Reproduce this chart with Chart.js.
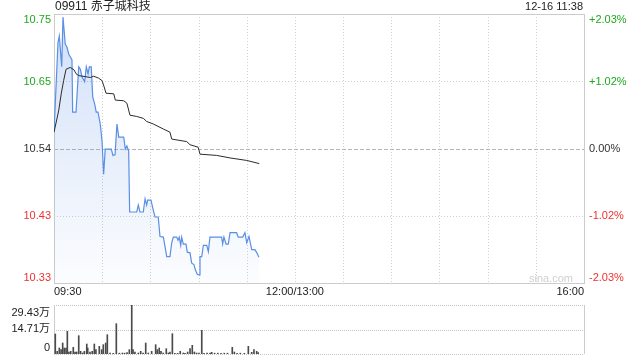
<!DOCTYPE html>
<html>
<head>
<meta charset="utf-8">
<script src="https://cdn.jsdelivr.net/npm/chart.js@4"></script>
<style>
  html, body { margin: 0; padding: 0; background: #fff; }
  #wrap { position: relative; width: 640px; height: 360px; }
  canvas { position: absolute; left: 0; }
</style>
</head>
<body>
<div id="wrap">
  <canvas id="price" width="640" height="300" style="top:0"></canvas>
  <canvas id="vol" width="640" height="62" style="top:298px"></canvas>
</div>
<script>
// minutes since 09:30 (lunch break removed), 330 = 16:00
const xTicks = [0, 30, 60, 90, 120, 150, 180, 210, 240, 270, 300, 330];
const xLabels = { 0: '09:30', 150: '12:00/13:00', 330: '16:00' };

const priceTicks = [10.326, 10.433, 10.54, 10.647, 10.754];
const priceLabels = ['10.33', '10.43', '10.54', '10.65', '10.75'];
const pctLabels = ['-2.03%', '-1.02%', '0.00%', '+1.02%', '+2.03%'];

const priceMin = [0, 2.5, 3.3, 4.8, 5.6, 7, 8.1, 9.2, 10.1, 11.2, 11.6, 13.7, 15.4, 16.4, 17.4, 19.1, 20.1, 21.2, 22, 23.2,
  24.1, 25.3, 26.3, 27.4, 28.8, 29.9, 30.9, 31.9, 35.7, 36.7, 38, 39.2, 40.3, 43.4, 44.4, 45.4, 46.5, 47.1, 51.5, 52.5,
  53.5, 55.6, 56.7, 57.7, 58.3, 60.4, 61.8, 62.9, 64.9, 66, 68.1, 70.2, 72.2, 73.3, 74.3, 76.4, 77.2, 78, 78.9, 79.5,
  80.5, 82.2, 83, 84.7, 85.7, 87.2, 88, 89.2, 90.3, 90.9, 92, 93, 95.1, 96.1, 97.1, 104.4, 105, 105.8, 107.1, 108.5,
  109.6, 113.7, 114.7, 117.5, 118.9, 120, 121.4, 123.1, 125.1, 126.3, 127.6];
const priceVal = [10.566, 10.709, 10.719, 10.670, 10.749, 10.706, 10.701, 10.690, 10.686, 10.681, 10.598, 10.598, 10.670, 10.666, 10.654, 10.646, 10.670, 10.659, 10.670, 10.670,
  10.622, 10.611, 10.598, 10.598, 10.579, 10.552, 10.499, 10.539, 10.539, 10.529, 10.530, 10.579, 10.558, 10.558, 10.539, 10.544, 10.536, 10.439, 10.439, 10.450,
  10.439, 10.439, 10.460, 10.450, 10.458, 10.458, 10.442, 10.431, 10.431, 10.400, 10.399, 10.368, 10.368, 10.390, 10.399, 10.399, 10.394, 10.399, 10.386, 10.399,
  10.388, 10.388, 10.375, 10.374, 10.358, 10.355, 10.347, 10.340, 10.339, 10.368, 10.368, 10.386, 10.386, 10.376, 10.399, 10.399, 10.388, 10.399, 10.388, 10.388,
  10.406, 10.406, 10.399, 10.399, 10.406, 10.390, 10.400, 10.379, 10.379, 10.374, 10.367];

const avgMin = [0, 2.9, 4.5, 6, 7.5, 10.1, 12.5, 13.7, 15.4, 22.6, 24.7, 27.8, 29.9, 31.1, 32.4, 37.2, 38.2, 43.4, 45.4, 47.3,
  51.5, 55.6, 57.7, 61.8, 68.1, 72.2, 73.3, 82.6, 84.7, 89.8, 90.9, 101.3, 109.6, 120, 127.8];
const avgVal = [10.566, 10.600, 10.627, 10.648, 10.666, 10.669, 10.665, 10.659, 10.656, 10.653, 10.655, 10.652, 10.648, 10.639, 10.628, 10.627, 10.617, 10.616, 10.612, 10.593,
  10.591, 10.588, 10.583, 10.579, 10.571, 10.566, 10.555, 10.551, 10.546, 10.542, 10.531, 10.529, 10.525, 10.521, 10.516];

// volume in 万
const volTicks = [0, 14.715, 29.43];
const volLabels = ['0', '14.71万', '29.43万'];
const volMin = [0.8, 2, 3.3, 4.4, 5.4, 6.4, 7.5, 8.3, 9.3, 10.4, 12, 13.1, 14.1, 15.4, 16.6, 17.9, 18.9, 20.4, 21, 22.4,
  23.8, 25.1, 26.1, 28.2, 29.7, 30.7, 32.2, 33.2, 34.9, 36.9, 38.8, 40.7, 42.6, 44, 45.5, 46.9, 48.4, 49.2, 50.4, 52.5,
  54, 55.5, 57.1, 58.7, 60.8, 63.3, 64.3, 65.5, 66.6, 68, 69.9, 71.2, 72.2, 73.7, 75.3, 77, 78.6, 80.5, 81.6, 83.2,
  84.7, 86.1, 87.4, 88.8, 90.3, 92, 93.4, 95.3, 97.2, 98.2, 100, 102, 104, 106, 108, 111, 112.3, 114, 116, 118.5,
  121, 123.1, 124.5, 126.2, 127.1];
const volVal = [12.0, 1.6, 3.6, 2.6, 6.6, 3.6, 3.6, 13.6, 1.2, 1.6, 4.0, 1.2, 1.2, 11.0, 1.6, 0.6, 1.6, 6.0, 3.6, 1.2,
  1.6, 6.0, 2.6, 4.6, 2.6, 5.6, 6.6, 11.6, 0.6, 0.4, 18.2, 0.5, 0.6, 0.5, 0.8, 2.6, 29.43, 2.6, 1.2, 0.6,
  1.6, 0.6, 6.6, 0.6, 1.6, 5.6, 2.6, 3.6, 1.6, 0.6, 3.2, 0.6, 1.2, 12.2, 0.4, 0.4, 1.6, 0.6, 0.4, 1.2,
  3.2, 5.2, 1.2, 0.6, 0.6, 14.2, 0.4, 0.5, 0.5, 1.0, 0.5, 0.5, 0.4, 0.5, 0.5, 4.0, 1.2, 0.4, 0.5, 0.4,
  4.6, 1.0, 2.6, 1.6, 0.8];

const title = '09911 赤子城科技';
const stamp = '12-16 11:38';

const FONT = "'Liberation Sans', Arial, 'Noto Sans CJK SC', sans-serif";
const GREEN = '#1fa81f', RED = '#f03030', DARK = '#333';
const labelColor = i => (i > 2 ? GREEN : i < 2 ? RED : DARK);

function hline(ctx, x0, x1, y) {
  const py = Math.round(y) + 0.5;
  ctx.beginPath(); ctx.moveTo(x0, py); ctx.lineTo(x1, py); ctx.stroke();
}
function vline(ctx, x, y0, y1) {
  const px = Math.round(x) + 0.5;
  ctx.beginPath(); ctx.moveTo(px, y0); ctx.lineTo(px, y1); ctx.stroke();
}

const priceDecor = {
  id: 'priceDecor',
  beforeDatasetsDraw(chart) {
    const { ctx, chartArea: a, scales: { x, y } } = chart;
    ctx.save();
    ctx.lineWidth = 1;
    ctx.strokeStyle = '#cfcfcf';
    ctx.setLineDash([1, 2]);
    xTicks.slice(1, -1).forEach(m => vline(ctx, x.getPixelForValue(m), a.top, a.bottom));
    priceTicks.slice(1, -1).forEach((v, i) => {
      if (i === 1) return;
      hline(ctx, a.left, a.right, y.getPixelForValue(v));
    });
    // previous close line
    ctx.strokeStyle = '#b5b5b5';
    ctx.setLineDash([4, 2]);
    hline(ctx, a.left, a.right, y.getPixelForValue(priceTicks[2]));
    ctx.setLineDash([]);
    ctx.strokeStyle = '#cccccc';
    ctx.strokeRect(Math.round(a.left) + 0.5, Math.round(a.top) + 0.5, Math.round(a.right - a.left), Math.round(a.bottom - a.top));
    ctx.restore();
  },
  afterDraw(chart) {
    const { ctx, chartArea: a, scales: { x, y } } = chart;
    ctx.save();
    ctx.font = '12px ' + FONT;
    ctx.fillStyle = '#222';
    ctx.textBaseline = 'middle';
    ctx.textAlign = 'left';
    ctx.fillText(title, a.left + 1, 7);
    ctx.font = '11px ' + FONT;
    ctx.textAlign = 'right';
    ctx.fillText(stamp, a.right - 1, 7);

    priceTicks.forEach((v, i) => {
      let py = y.getPixelForValue(v);
      if (i === 0) py -= 5;
      else if (i === priceTicks.length - 1) py += 6;
      else py += 0.5;
      ctx.fillStyle = labelColor(i);
      ctx.textAlign = 'right';
      ctx.fillText(priceLabels[i], a.left - 3, py);
      ctx.textAlign = 'left';
      ctx.fillText(pctLabels[i], a.right + 5, py);
    });

    ctx.fillStyle = '#222';
    xTicks.forEach(m => {
      const lab = xLabels[m];
      if (!lab) return;
      ctx.textAlign = m === 0 ? 'left' : (m === 330 ? 'right' : 'center');
      ctx.fillText(lab, x.getPixelForValue(m), a.bottom + 9);
    });

    ctx.fillStyle = '#d0d0d0';
    ctx.textAlign = 'right';
    ctx.fillText('sina.com', a.right - 11, a.bottom - 4);
    ctx.restore();
  }
};

const volDecor = {
  id: 'volDecor',
  beforeDatasetsDraw(chart) {
    const { ctx, chartArea: a, scales: { y } } = chart;
    ctx.save();
    ctx.lineWidth = 1;
    ctx.strokeStyle = '#c4c4c4';
    ctx.setLineDash([1, 1]);
    volTicks.forEach(v => hline(ctx, a.left, a.right, y.getPixelForValue(v)));
    ctx.setLineDash([]);
    ctx.strokeStyle = '#cccccc';
    vline(ctx, a.left, a.top, a.bottom);
    vline(ctx, a.right, a.top, a.bottom);
    ctx.restore();
  },
  afterDraw(chart) {
    const { ctx, chartArea: a, scales: { y } } = chart;
    ctx.save();
    ctx.font = '11px ' + FONT;
    ctx.fillStyle = '#222';
    ctx.textBaseline = 'middle';
    ctx.textAlign = 'right';
    volTicks.forEach((v, i) => {
      let py = y.getPixelForValue(v);
      if (i === 0) py -= 6;
      else if (i === volTicks.length - 1) py += 8;
      else py -= 1;
      ctx.fillText(volLabels[i], a.left - 4, py);
    });
    ctx.restore();
  }
};

const hiddenX = { type: 'linear', min: 0, max: 330, offset: false, display: false };

new Chart(document.getElementById('price'), {
  type: 'line',
  data: {
    datasets: [
      {
        label: 'avg',
        data: avgMin.map((m, i) => ({ x: m, y: avgVal[i] })),
        borderColor: '#2b2b2b',
        borderWidth: 1,
        pointRadius: 0,
        fill: false,
        tension: 0
      },
      {
        label: 'price',
        data: priceMin.map((m, i) => ({ x: m, y: priceVal[i] })),
        borderColor: '#5a8fe6',
        borderWidth: 1.2,
        pointRadius: 0,
        tension: 0,
        fill: 'start',
        backgroundColor: (c) => {
          const { ctx, chartArea } = c.chart;
          if (!chartArea) return 'rgba(90,143,230,0.15)';
          const g = ctx.createLinearGradient(0, chartArea.top, 0, chartArea.bottom);
          g.addColorStop(0, 'rgba(90,143,230,0.28)');
          g.addColorStop(1, 'rgba(90,143,230,0.02)');
          return g;
        }
      }
    ]
  },
  options: {
    responsive: false,
    animation: false,
    events: [],
    layout: { padding: { left: 54, right: 56, top: 14, bottom: 17 } },
    scales: {
      x: hiddenX,
      y: { type: 'linear', min: priceTicks[0], max: priceTicks[priceTicks.length - 1], display: false }
    },
    plugins: { legend: { display: false }, tooltip: { enabled: false } }
  },
  plugins: [priceDecor]
});

new Chart(document.getElementById('vol'), {
  type: 'bar',
  data: {
    datasets: [{
      label: 'volume',
      data: volMin.map((m, i) => ({ x: m, y: volVal[i] })),
      backgroundColor: '#4a4a4a',
      barThickness: 1,
      borderWidth: 0
    }]
  },
  options: {
    responsive: false,
    animation: false,
    events: [],
    layout: { padding: { left: 54, right: 56, top: 7, bottom: 6 } },
    scales: {
      x: { ...hiddenX },
      y: { type: 'linear', min: 0, max: volTicks[volTicks.length - 1], display: false }
    },
    plugins: { legend: { display: false }, tooltip: { enabled: false } }
  },
  plugins: [volDecor]
});
</script>
</body>
</html>
